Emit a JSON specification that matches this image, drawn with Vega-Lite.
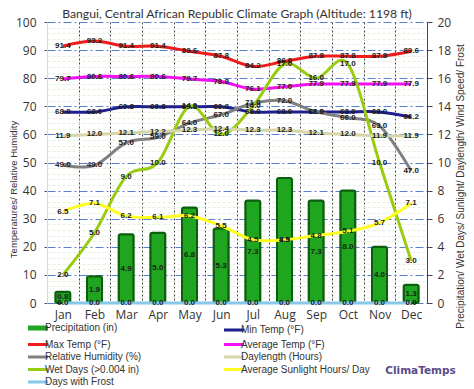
{
  "$schema": "https://vega.github.io/schema/vega-lite/v6.json",
  "width": 380,
  "height": 281,
  "autosize": {"type": "none"},
  "padding": {"left": 47, "top": 22, "right": 47, "bottom": 86},
  "background": "white",
  "title": {"text": "Bangui, Central African Republic Climate Graph (Altitude: 1198 ft)", "frame": "group", "anchor": "middle", "offset": -4, "font": "Lato", "fontSize": 12.2, "fontWeight": "normal", "color": "#333333"},
  "data": {"values": [
    {"month": "Jan", "precip": 0.8, "maxT": 91.4, "avgT": 79.7, "minT": 68.0, "rh": 49, "day": 11.9, "wet": 2.0, "sun": 6.5, "frost": 0},
    {"month": "Feb", "precip": 1.9, "maxT": 93.2, "avgT": 80.6, "minT": 68.0, "rh": 49, "day": 12.0, "wet": 5.0, "sun": 7.1, "frost": 0},
    {"month": "Mar", "precip": 4.9, "maxT": 91.4, "avgT": 80.6, "minT": 69.8, "rh": 57, "day": 12.1, "wet": 9.0, "sun": 6.2, "frost": 0},
    {"month": "Apr", "precip": 5.0, "maxT": 91.4, "avgT": 80.6, "minT": 69.8, "rh": 59, "day": 12.2, "wet": 10.0, "sun": 6.1, "frost": 0},
    {"month": "May", "precip": 6.8, "maxT": 89.6, "avgT": 79.7, "minT": 69.8, "rh": 64, "day": 12.3, "wet": 14.0, "sun": 6.2, "frost": 0},
    {"month": "Jun", "precip": 5.3, "maxT": 87.8, "avgT": 78.8, "minT": 69.8, "rh": 67, "day": 12.4, "wet": 12.0, "sun": 5.5, "frost": 0},
    {"month": "Jul", "precip": 7.3, "maxT": 84.2, "avgT": 76.1, "minT": 68.0, "rh": 71, "day": 12.3, "wet": 14.0, "sun": 4.5, "frost": 0},
    {"month": "Aug", "precip": 8.9, "maxT": 86.0, "avgT": 77.0, "minT": 68.0, "rh": 72, "day": 12.3, "wet": 17.0, "sun": 4.5, "frost": 0},
    {"month": "Sep", "precip": 7.3, "maxT": 87.8, "avgT": 77.9, "minT": 68.0, "rh": 68, "day": 12.1, "wet": 16.0, "sun": 4.8, "frost": 0},
    {"month": "Oct", "precip": 8.0, "maxT": 87.8, "avgT": 77.9, "minT": 68.0, "rh": 66, "day": 12.0, "wet": 17.0, "sun": 5.1, "frost": 0},
    {"month": "Nov", "precip": 4.0, "maxT": 87.8, "avgT": 77.9, "minT": 68.0, "rh": 63, "day": 11.9, "wet": 10.0, "sun": 5.7, "frost": 0},
    {"month": "Dec", "precip": 1.3, "maxT": 89.6, "avgT": 77.9, "minT": 66.2, "rh": 47, "day": 11.9, "wet": 3.0, "sun": 7.1, "frost": 0}
  ]},
  "encoding": {
    "x": {
      "field": "month", "type": "nominal",
      "sort": ["Jan","Feb","Mar","Apr","May","Jun","Jul","Aug","Sep","Oct","Nov","Dec"],
      "scale": {"paddingInner": 0, "paddingOuter": 0},
      "axis": {
        "title": "ClimaTemps", "titleX": 373, "titleY": 67, "titleAlign": "center", "titleBaseline": "middle",
        "titleColor": "#5b4b8a", "titleFont": "DejaVu Sans", "titleFontWeight": "bold", "titleFontSize": 10.5,
        "labelFont": "Open Sans", "labelFontSize": 12, "labelColor": "#333333", "labelPadding": 6, "labelAngle": 0,
        "ticks": false, "domain": false, "grid": true, "tickBand": "extent",
        "gridColor": "#444444", "gridDash": [2, 2], "gridWidth": 1
      }
    }
  },
  "layer": [
    {
      "transform": [{"fold": ["maxT", "avgT", "minT", "rh"], "as": ["key", "value"]}],
      "mark": {"type": "line", "interpolate": "cardinal", "strokeWidth": 3},
      "encoding": {
        "y": {
          "field": "value", "type": "quantitative",
          "scale": {"domain": [0, 100], "nice": false},
          "axis": {
            "orient": "left",
            "values": [0,2,4,6,8,10,12,14,16,18,20,22,24,26,28,30,32,34,36,38,40,42,44,46,48,50,52,54,56,58,60,62,64,66,68,70,72,74,76,78,80,82,84,86,88,90,92,94,96,98,100],
            "labelExpr": "datum.value % 10 === 0 ? datum.label : ''",
            "labelOverlap": false,
            "labelFont": "Open Sans", "labelFontSize": 12, "labelColor": "#333333", "labelPadding": 8,
            "title": "Temperatures/ Relative Humidity", "titleFont": "Liberation Sans", "titleFontSize": 9.5,
            "titleFontWeight": "normal", "titleColor": "#333333", "titleAngle": -90,
            "titleX": -34, "titleY": 167, "titleAlign": "center", "titleBaseline": "middle",
            "tickSize": 3,
            "tickColor": {"condition": {"test": "datum.value % 10 === 0", "value": "#555555"}, "value": "transparent"},
            "grid": true,
            "gridColor": {"condition": {"test": "datum.value % 10 === 0", "value": "#5a7fd0"}, "value": "#e4f0de"},
            "gridDash": {"condition": {"test": "datum.value % 10 === 0", "value": [8, 3, 2, 3]}, "value": [3, 2]},
            "gridWidth": 1,
            "domainColor": "#c8e6c0"
          }
        },
        "color": {
          "field": "key", "type": "nominal",
          "scale": {
            "domain": ["precip", "minT", "maxT", "avgT", "rh", "day", "wet", "sun", "frost"],
            "range": ["#1fa51f", "#1f1f8f", "#ee1c1c", "#f010f0", "#808080", "#d6d6a8", "#99cc11", "#ffff22", "#88c8e8"]
          },
          "legend": {
            "orient": "none", "legendX": -14, "legendY": 301, "direction": "horizontal", "columns": 2,
            "columnPadding": 76, "rowPadding": 0.5, "padding": 0, "title": null,
            "symbolType": "stroke", "symbolSize": 400, "symbolStrokeWidth": 3,
            "labelFont": "Liberation Sans", "labelFontSize": 10, "labelColor": "#333333", "labelOffset": 2,
            "labelExpr": "datum.value === 'precip' ? 'Precipitation (in)' : datum.value === 'minT' ? 'Min Temp (°F)' : datum.value === 'maxT' ? 'Max Temp (°F)' : datum.value === 'avgT' ? 'Average Temp (°F)' : datum.value === 'rh' ? 'Relative Humidity (%)' : datum.value === 'day' ? 'Daylength (Hours)' : datum.value === 'wet' ? 'Wet Days (>0.004 in)' : datum.value === 'sun' ? 'Average Sunlight Hours/ Day' : 'Days with Frost'",
            "encode": {"symbols": {"update": {"stroke": {"scale": "color", "field": "value"}, "strokeWidth": {"signal": "datum.value === 'precip' ? 5 : 3"}, "fill": {"value": "transparent"}}}}
          }
        }
      }
    },
    {
      "transform": [{"fold": ["precip", "wet", "sun", "day", "frost"], "as": ["key", "value"]}],
      "encoding": {
        "y": {
          "field": "value", "type": "quantitative",
          "scale": {"domain": [0, 20], "nice": false},
          "axis": {
            "orient": "right", "values": [0,2,4,6,8,10,12,14,16,18,20],
            "labelFont": "Open Sans", "labelFontSize": 12, "labelColor": "#333333", "labelPadding": 5,
            "tickSize": 5, "tickColor": "#444444", "domainColor": "#444444", "grid": false,
            "title": "Precipitation/ Wet Days/ Sunlight/ Daylength/ Wind Speed/ Frost",
            "titleFont": "Liberation Sans", "titleFontSize": 10, "titleFontWeight": "normal", "titleColor": "#333333",
            "titleAngle": 270, "titleX": 33, "titleY": 164, "titleAlign": "center", "titleBaseline": "middle"
          }
        },
        "color": {"field": "key", "type": "nominal"}
      },
      "layer": [
        {
          "transform": [{"filter": "datum.key === 'precip'"}],
          "mark": {"type": "bar", "size": 15, "stroke": "#0b5e0b", "strokeWidth": 2, "cornerRadius": 2}
        },
        {
          "transform": [{"filter": "datum.key !== 'precip'"}],
          "mark": {"type": "line", "interpolate": "cardinal", "strokeWidth": 3}
        },
        {
          "transform": [{"filter": "datum.key !== 'precip'"}],
          "mark": {"type": "text", "font": "Liberation Sans", "fontSize": 8, "fontWeight": "bold", "baseline": "middle"},
          "encoding": {"text": {"field": "value", "type": "quantitative", "format": ".1f"}, "color": {"value": "#1a1a1a"}}
        }
      ]
    },
    {
      "mark": {"type": "text", "font": "Liberation Sans", "fontSize": 8, "fontWeight": "bold", "baseline": "middle", "fill": "#1a1a1a"},
      "encoding": {
        "y": {"field": "precip", "type": "quantitative", "scale": {"domain": [0, 40], "nice": false}, "axis": null},
        "text": {"field": "precip", "type": "quantitative", "format": ".1f"}
      }
    },
    {
      "transform": [{"fold": ["maxT", "avgT", "minT", "rh"], "as": ["key", "value"]}],
      "mark": {"type": "text", "font": "Liberation Sans", "fontSize": 8, "fontWeight": "bold", "baseline": "middle", "fill": "#1a1a1a"},
      "encoding": {
        "y": {"field": "value", "type": "quantitative", "scale": {"domain": [0, 100], "nice": false}, "axis": null},
        "text": {"field": "value", "type": "quantitative", "format": ".1f"}
      }
    }
  ],
  "resolve": {"scale": {"y": "independent"}},
  "config": {"view": {"stroke": null}}
}
